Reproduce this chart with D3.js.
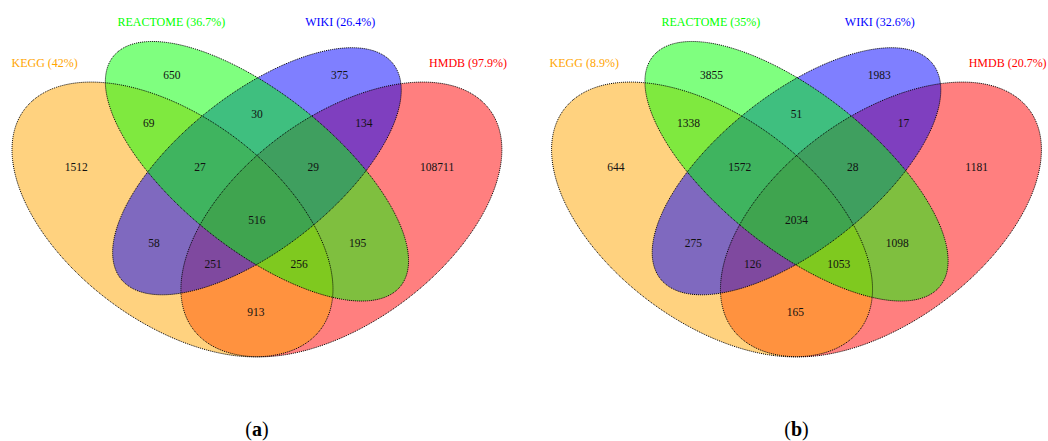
<!DOCTYPE html>
<html>
<head>
<meta charset="utf-8">
<script src="https://cdn.jsdelivr.net/npm/d3@7"></script>
<style>
  body { margin: 0; background: #fff; }
  svg { display: block; }
  .num { font-family: "Liberation Serif", "Times New Roman", serif; font-size: 11.5px; fill: #111; }
  .cat { font-family: "Liberation Serif", "Times New Roman", serif; font-size: 12px; }
  .panel { font-family: "Liberation Serif", serif; font-size: 20px; fill: #000; }
</style>
</head>
<body>
<svg width="1048" height="441"></svg>
<script>
// sets, in drawing order of the legend
const sets = ["KEGG", "REACTOME", "WIKI", "HMDB"];
const setColors = ["#ffa500", "#00ff00", "#0000ff", "#ff0000"];

// percentages shown next to each set name
const pctA = ["42%", "36.7%", "26.4%", "97.9%"];
const pctB = ["8.9%", "35%", "32.6%", "20.7%"];

// region keys (K=KEGG, R=REACTOME, W=WIKI, H=HMDB)
const regions = ["R", "W", "KR", "RW", "WH", "K", "KRW", "RWH", "H", "KRWH", "KW", "RH", "KWH", "KRH", "KH"];
const countsA = [650, 375, 69, 30, 134, 1512, 27, 29, 108711, 516, 58, 195, 251, 256, 913];
const countsB = [3855, 1983, 1338, 51, 17, 644, 1572, 28, 1181, 2034, 275, 1098, 126, 1053, 165];

// layout (unit space, y up) -- ellipses like VennDiagram's quad layout
const ellipses = [
  { set: "KEGG",     cx: 0.35, cy: 0.47, a: 0.35, b: 0.20, rot: 135 },
  { set: "REACTOME", cx: 0.50, cy: 0.57, a: 0.35, b: 0.15, rot: 135 },
  { set: "WIKI",     cx: 0.50, cy: 0.57, a: 0.33, b: 0.15, rot: 45 },
  { set: "HMDB",     cx: 0.65, cy: 0.47, a: 0.35, b: 0.20, rot: 45 }
];
const drawOrder = ["HMDB", "KEGG", "WIKI", "REACTOME"];

const regionPos = [
  [0.349, 0.770], [0.647, 0.770], [0.308, 0.670], [0.500, 0.689], [0.690, 0.670],
  [0.179, 0.579], [0.399, 0.579], [0.600, 0.579], [0.820, 0.579], [0.500, 0.469],
  [0.317, 0.421], [0.679, 0.421], [0.422, 0.378], [0.575, 0.378], [0.498, 0.278]
];
const catPos = [[0.123, 0.795], [0.348, 0.880], [0.648, 0.880], [0.875, 0.795]];

const panels = [
  { tag: "a", pct: pctA, counts: countsA, x0: -24.55 },
  { tag: "b", pct: pctB, counts: countsB, x0: 515.0 }
];

const svg = d3.select("svg");

panels.forEach(p => {
  const x = d3.scaleLinear().domain([0, 1]).range([p.x0, p.x0 + 563]);
  const y = d3.scaleLinear().domain([0, 1]).range([446, 446 - 482]);

  const g = svg.append("g");

  const line = d3.line()
    .x(d => x(d[0]))
    .y(d => y(d[1]))
    .curve(d3.curveLinearClosed);

  function ellipsePoints(e) {
    const r = e.rot * Math.PI / 180;
    return d3.range(0, 2 * Math.PI, Math.PI / 180).map(t => [
      e.cx + e.a * Math.cos(t) * Math.cos(r) - e.b * Math.sin(t) * Math.sin(r),
      e.cy + e.a * Math.cos(t) * Math.sin(r) + e.b * Math.sin(t) * Math.cos(r)
    ]);
  }

  const ordered = drawOrder.map(s => ellipses.find(e => e.set === s));

  g.selectAll(".fill")
    .data(ordered)
    .enter()
    .append("path")
    .attr("class", "fill")
    .attr("d", d => line(ellipsePoints(d)))
    .attr("fill", d => setColors[sets.indexOf(d.set)])
    .attr("fill-opacity", 0.5)
    .attr("stroke", "none");

  g.selectAll(".border")
    .data(ordered)
    .enter()
    .append("path")
    .attr("class", "border")
    .attr("d", d => line(ellipsePoints(d)))
    .attr("fill", "none")
    .attr("stroke", "#000")
    .attr("stroke-width", 1)
    .attr("stroke-dasharray", "1,1");

  g.selectAll(".num")
    .data(regions)
    .enter()
    .append("text")
    .attr("class", "num")
    .attr("x", (d, i) => x(regionPos[i][0]))
    .attr("y", (d, i) => y(regionPos[i][1]))
    .attr("dy", "0.35em")
    .attr("text-anchor", "middle")
    .text((d, i) => p.counts[i]);

  g.selectAll(".cat")
    .data(sets)
    .enter()
    .append("text")
    .attr("class", "cat")
    .attr("x", (d, i) => x(catPos[i][0]))
    .attr("y", (d, i) => y(catPos[i][1]))
    .attr("dy", "0.35em")
    .attr("text-anchor", "middle")
    .attr("fill", (d, i) => setColors[i])
    .text((d, i) => d + " (" + p.pct[i] + ")");

  const lab = g.append("text")
    .attr("class", "panel")
    .attr("x", x(0.5))
    .attr("y", 436)
    .attr("text-anchor", "middle");
  lab.append("tspan").text("(");
  lab.append("tspan").attr("font-weight", "bold").text(p.tag);
  lab.append("tspan").text(")");
});
</script>
</body>
</html>
